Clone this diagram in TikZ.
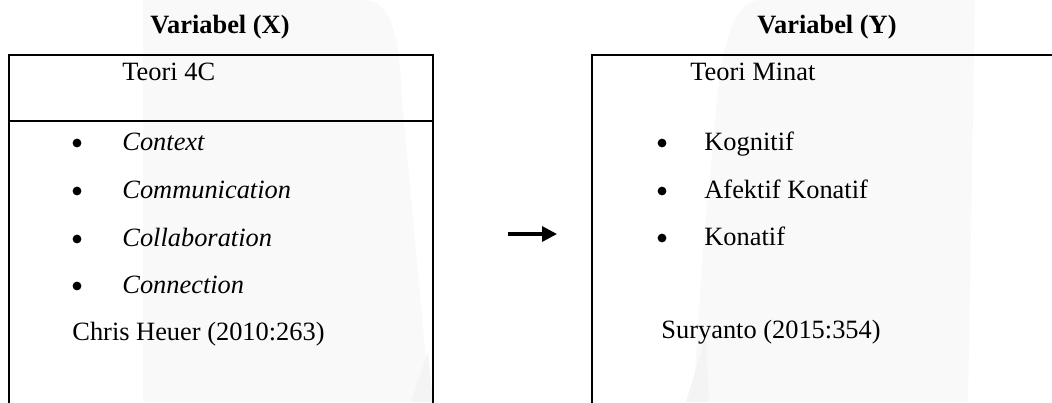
\documentclass[tikz,border=0pt]{standalone}
\usepackage{fontspec}
\setmainfont{Liberation Serif}
\usepackage{tikz}
\usetikzlibrary{arrows.meta}

\begin{document}
\begin{tikzpicture}[x=0.5pt, y=-0.5pt, every node/.style={inner sep=0pt, anchor=base west, font=\fontsize{13.2}{16}\selectfont}, dot/.style={circle, fill=black, minimum size=4.4pt, anchor=center}, frame/.style={line width=1.2pt}, wm/.style={fill=gray!5}]
\useasboundingbox (0,0) rectangle (1052,402);
% faint watermark behind the boxes
\fill[wm] (143,402) -- (143,0) -- (365,0) .. controls (392,0) and (400,40) .. (402,100) -- (430,402) -- cycle;
\fill[gray!9] (411,402) -- (428,352) -- (433,402) -- cycle;
\fill[wm] (693,402) -- (703,250) -- (716,110) .. controls (722,40) and (735,0) .. (760,0) -- (975,0) -- (968,402) -- cycle;
\fill[gray!9] (686,402) -- (706,336) -- (709,402) -- cycle;
% headings
\node[anchor=base, font=\fontsize{13.2}{16}\selectfont\bfseries] (hx) at (220,33) {Variabel (X)};
\node[anchor=base, font=\fontsize{13.2}{16}\selectfont\bfseries] (hy) at (827,33) {Variabel (Y)};
% left box
\draw[frame] (9,410) -- (9,55) -- (433,55) -- (433,410);
\draw[frame] (9,121) -- (433,121);
\node (tx) at (122,80) {Teori 4C};
\node[dot] (bx1) at (77,143) {};
\node (ctx) at (122,150) {\itshape Context};
\node[dot] (bx2) at (77,191) {};
\node (com) at (122,198) {\itshape Communication};
\node[dot] (bx3) at (77,239) {};
\node (col) at (122,246) {\itshape Collaboration};
\node[dot] (bx4) at (77,286) {};
\node (con) at (122,293) {\itshape Connection};
\node (srcx) at (72,340) {Chris Heuer (2010:263)};
% right box
\draw[frame] (592,410) -- (592,55) -- (1060,55);
\node (ty) at (690,80) {Teori Minat};
\node[dot] (by1) at (662,143) {};
\node (kog) at (704,150) {Kognitif};
\node[dot] (by2) at (662,191) {};
\node (afe) at (704,198) {Afektif Konatif};
\node[dot] (by3) at (662,238) {};
\node (kon) at (704,245) {Konatif};
\node (srcy) at (661,338) {Suryanto (2015:354)};
% arrow between the variables
\coordinate (a1) at (508,234);
\coordinate (a2) at (557,234);
\draw[-{Triangle[length=7.5pt, width=7.5pt]}, line width=1.6pt] (a1) -- (a2);
\end{tikzpicture}
\end{document}
